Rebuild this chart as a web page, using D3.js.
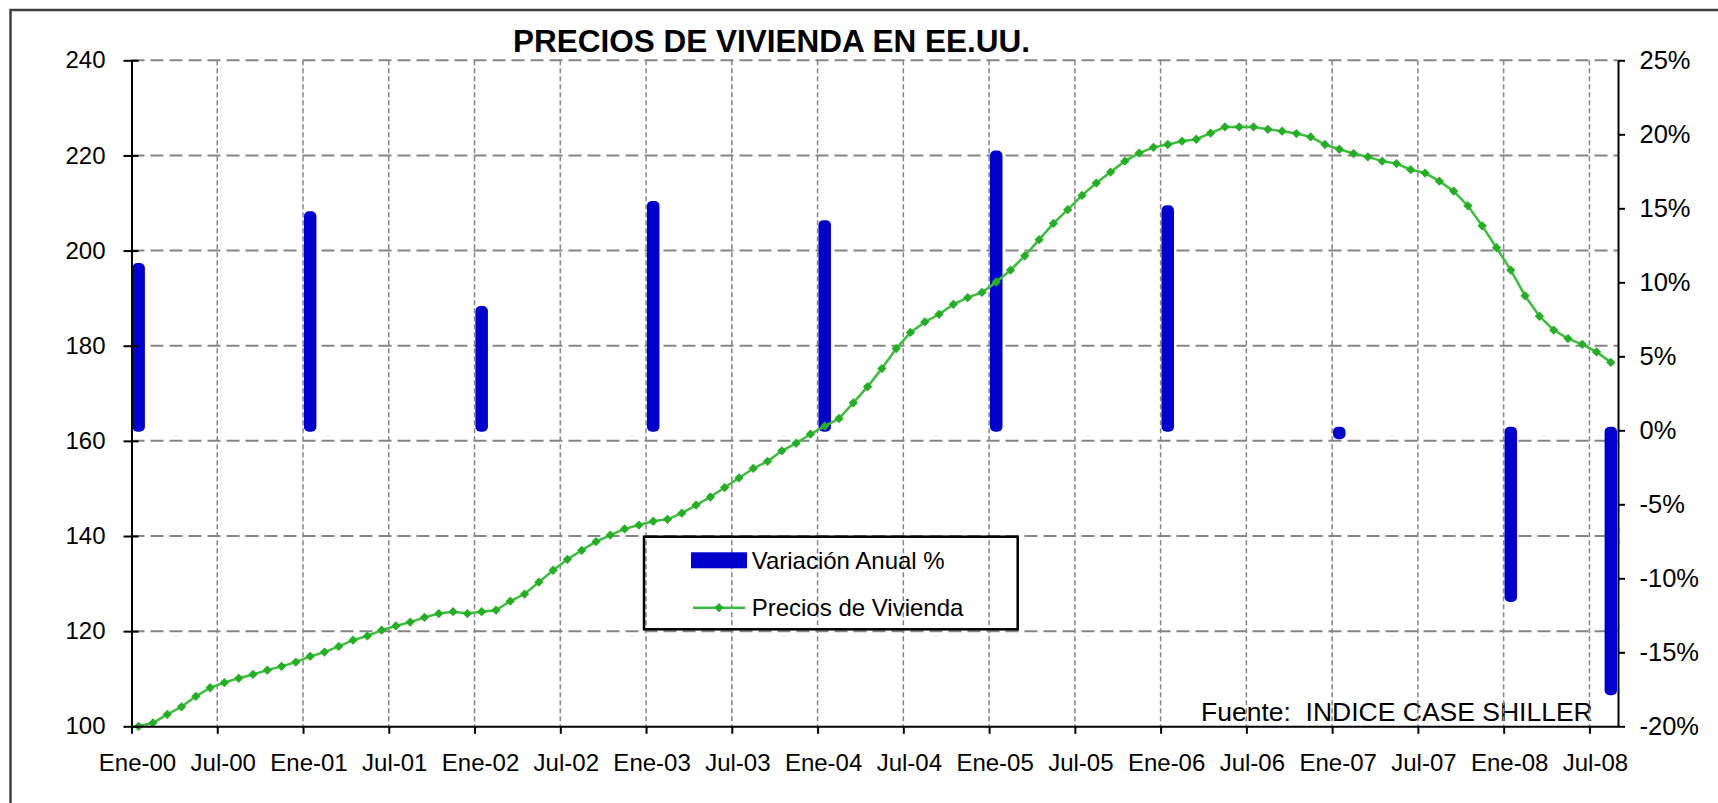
<!DOCTYPE html>
<html>
<head>
<meta charset="utf-8">
<title>Precios de vivienda en EE.UU.</title>
<script src="https://cdnjs.cloudflare.com/ajax/libs/d3/7.8.5/d3.min.js"></script>
<style>
    body { margin: 0; background: #ffffff; }
    svg { display: block; font-family: "Liberation Sans", Arial, sans-serif; }
</style>
</head>
<body>
<svg id="vis" width="1718" height="803"></svg>
<script>

/**
 * Data
 */
var MONTHS_ES = ["Ene", "Feb", "Mar", "Abr", "May", "Jun", "Jul", "Ago", "Sep", "Oct", "Nov", "Dic"];

// tick labels on the x axis, one every 6 months
var tickLabels = ["Ene-00", "Jul-00", "Ene-01", "Jul-01", "Ene-02", "Jul-02", "Ene-03", "Jul-03", "Ene-04",
    "Jul-04", "Ene-05", "Jul-05", "Ene-06", "Jul-06", "Ene-07", "Jul-07", "Ene-08", "Jul-08"];

// Case Shiller index, monthly, Ene-00 .. Ago-08 (Ene-00 = 100)
var precios = [
    100.0, 100.7, 102.5, 104.1, 106.3, 108.1, 109.2, 110.1, 110.9, 111.8, 112.6, 113.5,
    114.7, 115.6, 116.8, 118.1, 119.0, 120.2, 121.1, 121.9, 122.9, 123.7, 124.1, 123.7,
    124.1, 124.4, 126.3, 127.8, 130.3, 132.8, 135.1, 137.0, 138.8, 140.2, 141.5, 142.3,
    143.1, 143.5, 144.8, 146.5, 148.2, 150.2, 152.2, 154.2, 155.7, 157.9, 159.5, 161.4,
    163.1, 164.7, 168.0, 171.4, 175.2, 179.4, 182.8, 185.0, 186.6, 188.7, 190.1, 191.2,
    193.4, 195.9, 198.9, 202.3, 205.7, 208.6, 211.6, 214.2, 216.5, 218.8, 220.5, 221.7,
    222.3, 223.0, 223.4, 224.7, 226.0, 226.0, 226.0, 225.5, 225.1, 224.6, 223.9, 222.3,
    221.3, 220.4, 219.7, 218.8, 218.3, 217.0, 216.3, 214.6, 212.5, 209.4, 205.2, 200.6,
    195.9, 190.5, 186.2, 183.3, 181.5, 180.3, 178.7, 176.5
];

// annual variation % (right axis)
var variacionMeses = ["Ene-00", "Ene-01", "Ene-02", "Ene-03", "Ene-04", "Ene-05", "Ene-06", "Ene-07", "Ene-08", "Ago-08"];
var variacionValores = [11.3, 14.8, 8.4, 15.5, 14.2, 18.9, 15.2, -0.6, -11.6, -17.9];

var leftTicks = [100, 120, 140, 160, 180, 200, 220, 240];
var rightTicks = [-20, -15, -10, -5, 0, 5, 10, 15, 20, 25];

/**
 * Global variables
 */
var _vis;
var _months = [];
var _x, _yL, _yR;

const PLOT_LEFT = 131.5;
const PLOT_RIGHT = 1618;
const PLOT_TOP = 60.3;
const PLOT_BOTTOM = 726.3;
const GREEN_LINE = "#3dbd3d";
const GREEN_MARK = "#26ad26";
const BLUE = "#0000cc";

window.onload = function(){
    setup();
}

function setup(){
    _vis = d3.select("#vis");

    // month names for every point of the series
    for (var y = 0; y < 9; y++) {
        for (var m = 0; m < 12; m++) {
            if (_months.length < precios.length) {
                _months.push(MONTHS_ES[m] + "-0" + y);
            }
        }
    }

    _x = d3.scaleLinear().domain([0, _months.length]).range([PLOT_LEFT, PLOT_RIGHT]);
    _yL = d3.scaleLinear().domain([100, 240]).range([PLOT_BOTTOM, PLOT_TOP]);
    _yR = d3.scaleLinear().domain([-20, 25]).range([PLOT_BOTTOM, PLOT_TOP]);

    drawFrame();
    drawGrid();
    drawBars();
    drawLine();
    drawAxes();
    drawLegend();
}

function xMid(label){
    return _x(_months.indexOf(label) + 0.5);
}

function drawFrame(){
    _vis.append("rect")
        .attr("x", 10.5).attr("y", 10)
        .attr("width", 1740).attr("height", 820)
        .attr("fill", "none")
        .attr("stroke", "#404040")
        .attr("stroke-width", 2.5);

    _vis.append("text")
        .text("PRECIOS DE VIVIENDA EN EE.UU.")
        .attr("x", 513).attr("y", 51.7)
        .attr("style", "font-size: 31.5px; font-weight: bold; fill: #000;");

    _vis.append("text")
        .text("Fuente:  INDICE CASE SHILLER")
        .attr("x", 1201).attr("y", 721)
        .attr("xml:space", "preserve")
        .attr("style", "font-size: 26.5px; fill: #000; white-space: pre;");
}

function drawGrid(){
    // horizontal dashed lines at the left axis ticks
    _vis.append("g").selectAll("line")
        .data(leftTicks.filter(d => d > 100))
        .enter().append("line")
        .attr("x1", PLOT_LEFT).attr("x2", PLOT_RIGHT)
        .attr("y1", d => _yL(d)).attr("y2", d => _yL(d))
        .attr("stroke", "#858585")
        .attr("stroke-width", 2)
        .attr("stroke-dasharray", "13,6");

    // vertical fine dashed lines every 6 months
    _vis.append("g").selectAll("line")
        .data(d3.range(6, _months.length, 6))
        .enter().append("line")
        .attr("x1", d => _x(d)).attr("x2", d => _x(d))
        .attr("y1", PLOT_TOP).attr("y2", PLOT_BOTTOM)
        .attr("stroke", "#858585")
        .attr("stroke-width", 1.5)
        .attr("stroke-dasharray", "5,3");
}

function drawBars(){
    var y0 = _yR(0);
    _vis.append("g").selectAll("rect")
        .data(variacionValores)
        .enter().append("rect")
        .attr("x", (d, i) => xMid(variacionMeses[i]) - 6.25)
        .attr("width", 12.5)
        .attr("y", d => d > 0 ? _yR(d) : y0 - 3.5)
        .attr("height", d => d > 0 ? (y0 + 1.5 - _yR(d)) : (_yR(d) - y0 + 3.5))
        .attr("rx", 5).attr("ry", 5)
        .attr("fill", BLUE);
}

function drawLine(){
    var line = d3.line()
        .x((d, i) => _x(i + 0.5))
        .y(d => _yL(d));

    _vis.append("path")
        .datum(precios)
        .attr("d", line)
        .attr("fill", "none")
        .attr("stroke", GREEN_LINE)
        .attr("stroke-width", 2.5);

    var marker = d3.symbol().type(d3.symbolDiamond2 || d3.symbolDiamond).size(55);
    _vis.append("g").selectAll("path")
        .data(precios)
        .enter().append("path")
        .attr("d", marker)
        .attr("transform", (d, i) => "translate(" + _x(i + 0.5) + "," + _yL(d) + ")")
        .attr("fill", GREEN_MARK);
}

function drawAxes(){
    // left axis, ticks cross the line
    var left = _vis.append("g")
        .attr("transform", "translate(" + PLOT_LEFT + ",0)")
        .call(d3.axisLeft(_yL).tickValues(leftTicks).tickSize(7).tickSizeOuter(0));
    left.selectAll(".tick line").attr("x2", -8).attr("x1", 7);
    left.selectAll(".tick text").attr("x", -26).attr("style", "font-size: 24px; fill: #000;");

    // right axis
    var right = _vis.append("g")
        .attr("transform", "translate(" + PLOT_RIGHT + ",0)")
        .call(d3.axisRight(_yR).tickValues(rightTicks).tickSize(7).tickSizeOuter(0)
            .tickFormat(d => d + "%"));
    right.selectAll(".tick text").attr("x", 21.5).attr("style", "font-size: 25.5px; fill: #000;");

    // bottom axis, ticks only below
    var bottom = _vis.append("g")
        .attr("transform", "translate(0," + PLOT_BOTTOM + ")")
        .call(d3.axisBottom(_x).tickValues(d3.range(0, _months.length, 6)).tickSize(7.5).tickSizeOuter(0)
            .tickFormat((d, i) => tickLabels[i]));
    bottom.selectAll(".tick text")
        .attr("y", 28).attr("dx", 5.5)
        .attr("style", "font-size: 24px; fill: #000;");

    _vis.selectAll(".domain").attr("stroke", "#000").attr("stroke-width", 2);
    _vis.selectAll(".tick line").attr("stroke", "#000").attr("stroke-width", 2);
    _vis.selectAll("g[font-family]").attr("font-family", null).attr("font-size", null);
}

function drawLegend(){
    var lg = _vis.append("g").attr("class", "legend");

    lg.append("rect")
        .attr("x", 644).attr("y", 536.7)
        .attr("width", 373.7).attr("height", 92.6)
        .attr("fill", "none")
        .attr("stroke", "#000")
        .attr("stroke-width", 2.5);

    lg.append("rect")
        .attr("x", 691).attr("y", 552.3)
        .attr("width", 56).attr("height", 16)
        .attr("fill", BLUE);
    lg.append("text").text("Variación Anual %")
        .attr("x", 751.7).attr("y", 569)
        .attr("style", "font-size: 24px; fill: #000;");

    lg.append("line")
        .attr("x1", 693).attr("x2", 745)
        .attr("y1", 607.7).attr("y2", 607.7)
        .attr("stroke", GREEN_LINE).attr("stroke-width", 2.5);
    lg.append("path")
        .attr("d", d3.symbol().type(d3.symbolDiamond2 || d3.symbolDiamond).size(55))
        .attr("transform", "translate(719,607.7)")
        .attr("fill", GREEN_MARK);
    lg.append("text").text("Precios de Vivienda")
        .attr("x", 751.7).attr("y", 615.7)
        .attr("style", "font-size: 24px; fill: #000;");
}
</script>
</body>
</html>
